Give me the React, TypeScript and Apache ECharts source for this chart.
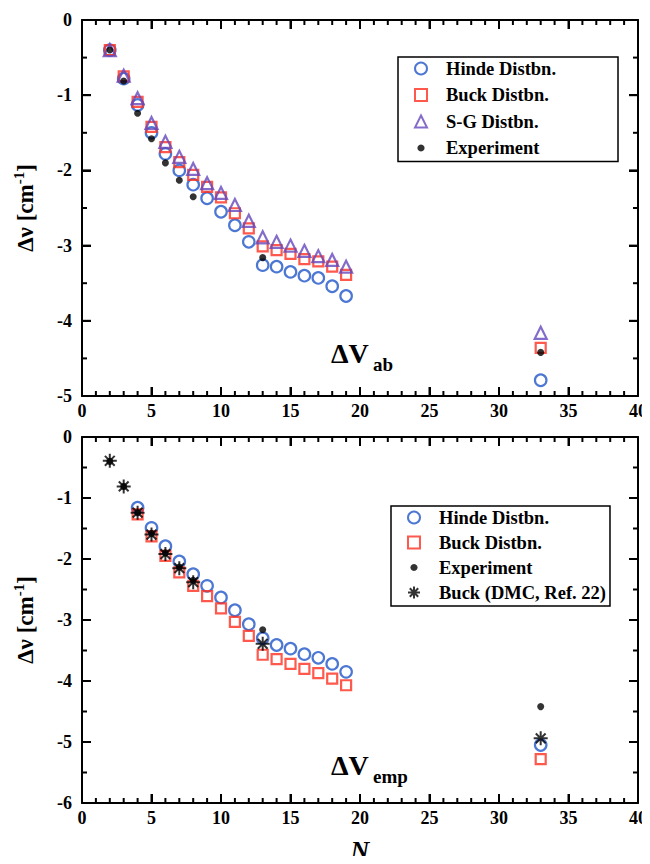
import React, { useEffect, useRef } from "react";
import * as echarts from "echarts";

// ---------- data ----------
const nTheory = [2, 3, 4, 5, 6, 7, 8, 9, 10, 11, 12, 13, 14, 15, 16, 17, 18, 19, 33];
const hindeAb = [-0.4, -0.78, -1.13, -1.5, -1.78, -2.0, -2.19, -2.37, -2.55, -2.73, -2.95, -3.26, -3.28, -3.35, -3.4, -3.43, -3.54, -3.67, -4.79];
const buckAb = [-0.4, -0.75, -1.09, -1.42, -1.69, -1.89, -2.06, -2.22, -2.36, -2.57, -2.77, -3.01, -3.06, -3.11, -3.18, -3.21, -3.28, -3.39, -4.36];
const sgAb = [-0.4, -0.74, -1.04, -1.37, -1.62, -1.82, -1.98, -2.17, -2.3, -2.46, -2.67, -2.89, -2.95, -3.0, -3.07, -3.14, -3.19, -3.28, -4.16];

const nEmp = [4, 5, 6, 7, 8, 9, 10, 11, 12, 13, 14, 15, 16, 17, 18, 19, 33];
const hindeEmp = [-1.16, -1.49, -1.79, -2.04, -2.25, -2.44, -2.63, -2.84, -3.07, -3.3, -3.41, -3.47, -3.56, -3.62, -3.72, -3.85, -5.05];
const buckEmp = [-1.27, -1.63, -1.95, -2.22, -2.44, -2.61, -2.81, -3.03, -3.26, -3.57, -3.64, -3.72, -3.8, -3.87, -3.96, -4.07, -5.28];

const nExp = [2, 3, 4, 5, 6, 7, 8, 13, 33];
const experiment = [-0.4, -0.81, -1.24, -1.58, -1.9, -2.13, -2.35, -3.16, -4.42];
const buckDMC = [-0.39, -0.81, -1.24, -1.6, -1.92, -2.15, -2.38, -3.39, -4.94];

const xRange = [0, 40];
const xMajorStep = 5;
const xMinorStep = 1;
const yTopRange = [-5, 0];
const yBottomRange = [-6, 0];
const yMajorStep = 1;
const yMinorStep = 0.5;

const pairs = (xs: number[], ys: number[]) => xs.map((x, i) => [x, ys[i]]);

const FONT = "Liberation Serif";
const BLUE = "#1f55c8";
const RED = "#ff2e1f";
const PURPLE = "#6548bd";
const STAR = "path://M10 0L10 20M0 10L20 10M3 3L17 17M3 17L17 3";
const DOT_ICON = "path://M0 0M20 20M10 4A6 6 0 1 1 9.99 4Z";

const MAJOR_LEN = 9;
const MINOR_LEN = 5;

// tick positions on all four sides of a frame: [x, y, direction, length]
function frameTicks(yRange: number[]) {
  const out: number[][] = [];
  const isMajor = (v: number, step: number) => Math.abs(v / step - Math.round(v / step)) < 1e-6;
  const xs = Math.round((xRange[1] - xRange[0]) / xMinorStep);
  for (let i = 1; i < xs; i++) {
    const v = xRange[0] + i * xMinorStep;
    const len = isMajor(v, xMajorStep) ? MAJOR_LEN : MINOR_LEN;
    out.push([v, yRange[0], 0, len]);
    out.push([v, yRange[1], 1, len]);
  }
  const ys = Math.round((yRange[1] - yRange[0]) / yMinorStep);
  for (let i = 1; i < ys; i++) {
    const v = yRange[0] + i * yMinorStep;
    const len = isMajor(v, yMajorStep) ? MAJOR_LEN : MINOR_LEN;
    out.push([xRange[0], v, 2, len]);
    out.push([xRange[1], v, 3, len]);
  }
  return out;
}

const DIRS = [[0, -1], [0, 1], [1, 0], [-1, 0]];

export default function App() {
  const ref = useRef<HTMLDivElement>(null);

  useEffect(() => {
    if (!ref.current) return;
    const chart = echarts.init(ref.current, null, { renderer: "svg" });

    const grids = [
      { left: 82, top: 20, width: 557, height: 376 },
      { left: 82, top: 437, width: 557, height: 368 },
    ];

    const lbl = { fontFamily: FONT, fontWeight: "bold" as const, fontSize: 18, color: "#000" };

    const mkX = (gi: number, pos: "bottom" | "top", showLabels: boolean, name = "") => ({
      type: "value" as const,
      gridIndex: gi,
      position: pos,
      min: xRange[0],
      max: xRange[1],
      interval: xMajorStep,
      name,
      nameLocation: "middle" as const,
      nameGap: 34,
      nameTextStyle: { fontFamily: FONT, fontWeight: "bold" as const, fontStyle: "italic" as const, fontSize: 26, color: "#000" },
      axisLine: { show: true, onZero: false, lineStyle: { color: "#000", width: 2 } },
      axisTick: { show: true, inside: true, length: MAJOR_LEN, lineStyle: { color: "#000", width: 2 } },
      axisLabel: { show: showLabels, margin: 6, ...lbl },
      splitLine: { show: false },
    });

    const mkY = (gi: number, pos: "left" | "right", range: number[], showLabels: boolean, name = "") => ({
      type: "value" as const,
      gridIndex: gi,
      position: pos,
      min: range[0],
      max: range[1],
      interval: yMajorStep,
      name,
      nameLocation: "middle" as const,
      nameGap: 42,
      nameRotate: 90,
      nameTextStyle: {
        fontFamily: FONT,
        fontWeight: "bold" as const,
        fontSize: 23,
        color: "#000",
        rich: {
          a: { fontFamily: FONT, fontWeight: "bold", fontSize: 23, color: "#000" },
          s: { fontFamily: FONT, fontWeight: "bold", fontSize: 15, color: "#000", verticalAlign: "top", padding: [0, 0, 14, 0] },
        },
      },
      axisLine: { show: true, onZero: false, lineStyle: { color: "#000", width: 2 } },
      axisTick: { show: true, inside: true, length: MAJOR_LEN, lineStyle: { color: "#000", width: 2 } },
      axisLabel: { show: showLabels, margin: 10, ...lbl },
      splitLine: { show: false },
    });

    const yName = "{a|Δν [cm}{s|-1}{a|]}";

    const open = (color: string) => ({ color: "transparent", borderColor: color, borderWidth: 2.2 });

    const legendText = { fontFamily: FONT, fontWeight: "bold", fontSize: 18.5, color: "#000", padding: [0, 0, 0, 14] };

    const texts = [
      { type: "text", left: 331, top: 339, style: { text: "ΔV", fontFamily: FONT, fontWeight: "bold", fontSize: 28, fill: "#000" } },
      { type: "text", left: 373, top: 355, style: { text: "ab", fontFamily: FONT, fontWeight: "bold", fontSize: 19, fill: "#000" } },
      { type: "text", left: 331, top: 751, style: { text: "ΔV", fontFamily: FONT, fontWeight: "bold", fontSize: 28, fill: "#000" } },
      { type: "text", left: 373, top: 767, style: { text: "emp", fontFamily: FONT, fontWeight: "bold", fontSize: 19, fill: "#000" } },
    ];

    const option: any = {
      animation: false,
      backgroundColor: "#fff",
      grid: grids,
      xAxis: [
        mkX(0, "bottom", true),
        mkX(0, "top", false),
        mkX(1, "bottom", true, "N"),
        mkX(1, "top", false),
      ],
      yAxis: [
        mkY(0, "left", yTopRange, true, yName),
        mkY(0, "right", yTopRange, false),
        mkY(1, "left", yBottomRange, true, yName),
        mkY(1, "right", yBottomRange, false),
      ],
      legend: [
        {
          left: 398,
          top: 57,
          orient: "vertical",
          data: [
            { name: "Hinde Distbn.", icon: "circle" },
            { name: "Buck Distbn.", icon: "rect" },
            { name: "S-G Distbn.", icon: "triangle" },
            { name: "Experiment", icon: DOT_ICON },
          ],
          itemWidth: 12,
          itemHeight: 12,
          itemGap: 7.5,
          padding: [2, 62, 4, 16],
          borderColor: "#000",
          borderWidth: 1.5,
          textStyle: legendText,
          selectedMode: false,
        },
        {
          left: 391,
          top: 506,
          orient: "vertical",
          data: [
            { name: "Hinde Distbn.", icon: "circle" },
            { name: "Buck Distbn.", icon: "rect" },
            { name: "Experiment", icon: DOT_ICON },
            { name: "Buck (DMC, Ref. 22)", icon: STAR },
          ],
          itemWidth: 12,
          itemHeight: 12,
          itemGap: 6,
          padding: [2, 4, 4, 16],
          borderColor: "#000",
          borderWidth: 1.5,
          textStyle: legendText,
          selectedMode: false,
        },
      ],
      graphic: texts,
      series: [
        {
          name: "Hinde Distbn.", type: "scatter", xAxisIndex: 0, yAxisIndex: 0,
          symbol: "circle", symbolSize: 11.5, itemStyle: open(BLUE), data: pairs(nTheory, hindeAb),
        },
        {
          name: "Buck Distbn.", type: "scatter", xAxisIndex: 0, yAxisIndex: 0,
          symbol: "rect", symbolSize: 10, itemStyle: open(RED), data: pairs(nTheory, buckAb),
        },
        {
          name: "S-G Distbn.", type: "scatter", xAxisIndex: 0, yAxisIndex: 0,
          symbol: "triangle", symbolSize: 12, itemStyle: open(PURPLE), data: pairs(nTheory, sgAb),
        },
        {
          name: "Experiment", type: "scatter", xAxisIndex: 0, yAxisIndex: 0,
          symbol: "circle", symbolSize: 7, itemStyle: { color: "#000" }, data: pairs(nExp, experiment),
        },
        {
          name: "Hinde Distbn.", type: "scatter", xAxisIndex: 2, yAxisIndex: 2,
          symbol: "circle", symbolSize: 11.5, itemStyle: open(BLUE), data: pairs(nEmp, hindeEmp),
        },
        {
          name: "Buck Distbn.", type: "scatter", xAxisIndex: 2, yAxisIndex: 2,
          symbol: "rect", symbolSize: 10, itemStyle: open(RED), data: pairs(nEmp, buckEmp),
        },
        {
          name: "Experiment", type: "scatter", xAxisIndex: 2, yAxisIndex: 2,
          symbol: "circle", symbolSize: 7, itemStyle: { color: "#000" }, data: pairs(nExp, experiment),
        },
        {
          name: "Buck (DMC, Ref. 22)", type: "scatter", xAxisIndex: 2, yAxisIndex: 2,
          symbol: STAR, symbolSize: 14, itemStyle: { color: "transparent", borderColor: "#000", borderWidth: 2 },
          data: pairs(nExp, buckDMC),
        },
      ],
    };

    chart.setOption(option);

    // tick marks placed through the axes' own scales
    try {
      const tickLines: any[] = [];
      const addTicks = (xi: number, yi: number, yRange: number[]) => {
        frameTicks(yRange).forEach(([x, y, dir, len]) => {
          const p = chart.convertToPixel({ xAxisIndex: xi, yAxisIndex: yi } as any, [x, y]) as number[];
          if (!p || !isFinite(p[0]) || !isFinite(p[1])) return;
          const d = DIRS[dir];
          tickLines.push({
            type: "line",
            z: 100,
            silent: true,
            shape: { x1: p[0], y1: p[1], x2: p[0] + d[0] * len, y2: p[1] + d[1] * len },
            style: { stroke: "#000", lineWidth: 2 },
          });
        });
      };
      addTicks(0, 0, yTopRange);
      addTicks(2, 2, yBottomRange);
      chart.setOption({ graphic: [...texts, ...tickLines] });
    } catch (e) {
      // keep the chart without extra ticks
    }

    return () => chart.dispose();
  }, []);

  return <div ref={ref} style={{ width: 650, height: 864, margin: -8 }} />;
}
